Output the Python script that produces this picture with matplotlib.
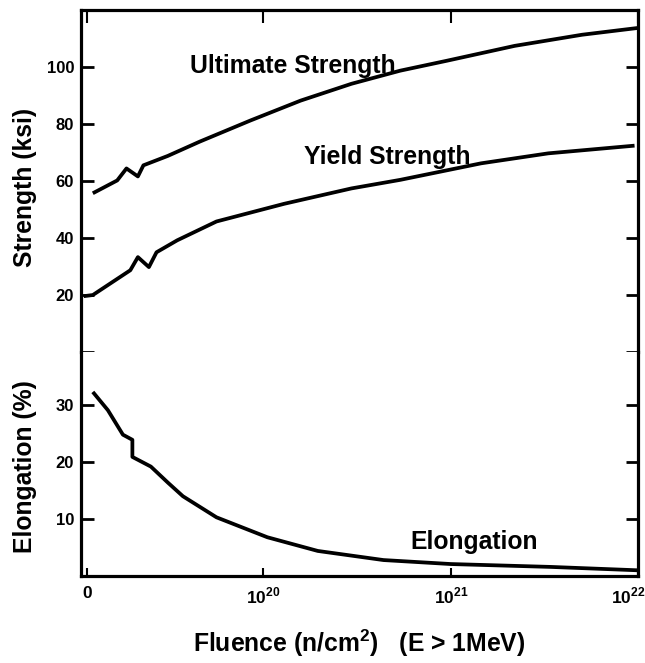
import numpy as np
import matplotlib.pyplot as plt
from matplotlib.transforms import ScaledTranslation

plt.rcParams['font.family'] = ['Liberation Sans', 'DejaVu Sans']
plt.rcParams['mathtext.fontset'] = 'custom'
plt.rcParams['mathtext.rm'] = 'Liberation Sans:bold'
plt.rcParams['mathtext.bf'] = 'Liberation Sans:bold'

# fluence (n/cm^2) and properties
uts_fluence = [1.23e19, 1.66e19, 1.86e19, 2.14e19, 2.29e19, 3.09e19, 4.57e19, 8.51e19,
               1.58e20, 2.95e20, 5.37e20, 9.55e20, 2.19e21, 5.01e21, 1.0e22]
uts_ksi = [55.7, 60.2, 64.4, 61.6, 65.5, 68.8, 73.8, 81.2,
           88.2, 94.1, 98.7, 102.2, 107.4, 111.3, 113.7]

ys_fluence = [1.10e19, 1.23e19, 1.95e19, 2.14e19, 2.45e19, 2.69e19, 3.47e19, 5.62e19,
              1.29e20, 2.95e20, 5.37e20, 1.45e21, 3.31e21, 9.55e21]
ys_ksi = [19.6, 20.0, 28.7, 33.3, 29.8, 35.0, 39.2, 45.8,
          52.0, 57.4, 60.4, 66.2, 69.7, 72.4]

el_fluence = [1.23e19, 1.48e19, 1.78e19, 2.0e19, 2.0e19, 2.51e19, 3.09e19, 3.72e19,
              5.62e19, 1.05e20, 1.95e20, 4.37e20, 1.0e21, 3.39e21, 1.0e22]
el_pct = [32.3, 29.1, 24.8, 23.9, 20.9, 19.2, 16.4, 14.0,
          10.3, 6.8, 4.4, 2.8, 2.1, 1.6, 1.0]

x_ticks = [1.15e19, 1e20, 1e21, 1e22]
x_ticklabels = ['0', '$10^{20}$', '$10^{21}$', '$10^{22}$']
x_min, x_max = 1.064e19, 1e22

fig = plt.figure(figsize=(6.45, 6.63), dpi=100)
ax_top = fig.add_axes([0.1256, 0.469, 0.864, 0.516])
ax_bot = fig.add_axes([0.1256, 0.1312, 0.864, 0.3378], sharex=ax_top)

lw = 2.7
ax_top.plot(uts_fluence, uts_ksi, color='black', lw=lw, solid_capstyle='butt')
ax_top.plot(ys_fluence, ys_ksi, color='black', lw=lw, solid_capstyle='butt')
ax_bot.plot(el_fluence, el_pct, color='black', lw=lw, solid_capstyle='butt')

ax_top.set_xscale('log')
ax_top.set_xlim(x_min, x_max)
ax_top.set_ylim(0, 120)
ax_bot.set_ylim(0, 39.3)

for ax in (ax_top, ax_bot):
    for s in ax.spines.values():
        s.set_linewidth(2.3)
    ax.xaxis.set_minor_locator(plt.NullLocator())
ax_top.spines['bottom'].set_visible(False)
ax_bot.spines['top'].set_visible(False)

# strength axis
ax_top.set_yticks([0, 20, 40, 60, 80, 100])
ax_top.set_yticklabels(['', '20', '40', '60', '80', '100'])
ax_top.tick_params(axis='y', direction='in', left=True, right=True, length=9, width=2,
                   labelsize=12, pad=5)
ax_top.set_xticks(x_ticks[1:3])
ax_top.tick_params(axis='x', direction='in', top=True, bottom=False, labelbottom=False,
                   length=9, width=1.5)

# elongation axis
ax_bot.set_yticks([10, 20, 30])
ax_bot.tick_params(axis='y', direction='in', left=True, right=True, length=9, width=2,
                   labelsize=12, pad=5)
ax_bot.set_xticks(x_ticks)
ax_bot.set_xticklabels(x_ticklabels)
ax_bot.tick_params(axis='x', direction='in', top=False, bottom=True, length=6, width=1.5,
                   labelsize=12.5, pad=7)

for lab in ax_top.get_yticklabels() + ax_bot.get_yticklabels() + ax_bot.get_xticklabels():
    lab.set_fontweight('bold')
last = ax_bot.get_xticklabels()[-1]
last.set_transform(last.get_transform() + ScaledTranslation(-0.1, 0, fig.dpi_scale_trans))

label_font = dict(fontsize=17.8, fontweight='bold')
ax_top.set_ylabel('Strength (ksi)', **label_font)
ax_bot.set_ylabel('Elongation (%)', **label_font)
ax_top.yaxis.set_label_coords(-0.079, 0.48)
ax_bot.yaxis.set_label_coords(-0.079, 0.49)
ax_bot.set_xlabel('Fluence (n/cm$^2$)   (E > 1MeV)', labelpad=15, **label_font)

# curve names
ax_top.text(4.08e19, 98.0, 'Ultimate Strength', va='baseline', ha='left', **label_font)
ax_top.text(1.65e20, 65.8, 'Yield Strength', va='baseline', ha='left', **label_font)
ax_bot.text(6.1e20, 4.7, 'Elongation', va='baseline', ha='left', **label_font)

fig.savefig('out.png', dpi=100)
